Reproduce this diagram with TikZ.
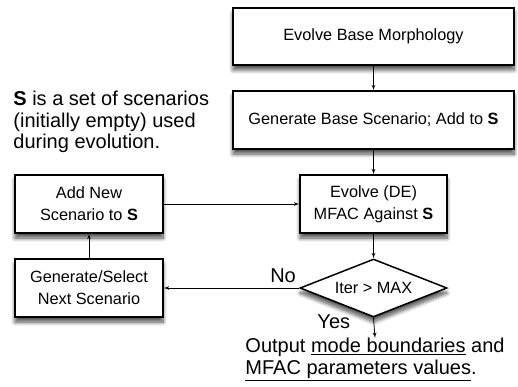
\documentclass[tikz,border=0pt]{standalone}
\usepackage{fontspec}
\setmainfont{Liberation Sans}
\usepackage{tikz}
\usetikzlibrary{arrows}
\usetikzlibrary{shapes.geometric}
\usetikzlibrary{shadows.blur}
\tikzstyle{block} = [draw,fill=white,line width=1.5pt,inner sep=0pt,align=center,
  font=\fontsize{16.3}{22}\selectfont,
  blur shadow={shadow xshift=0pt,shadow yshift=-5pt,shadow blur radius=4pt,shadow blur steps=10,shadow opacity=70}]
\tikzstyle{dec} = [block,diamond,aspect=2.5,minimum width=147pt,minimum height=58pt]
\tikzstyle{txt} = [inner sep=0pt,align=left,font=\fontsize{20}{21.5}\selectfont]

\begin{document}
\begin{tikzpicture}[>=latex',x=1pt,y=1pt,line width=0.8pt]

\useasboundingbox (0,0) rectangle (518,-387);

% Draw blocks, decision and texts

    \node[block,minimum width=281pt,minimum height=57pt] at (373.5,-36.5) (morph) {Evolve Base Morphology};
    \node[block,minimum width=281pt,minimum height=58pt] at (373.5,-120) (base) {Generate Base Scenario; Add to \textbf{S}};
    \node[block,minimum width=147pt,minimum height=58pt] at (373.5,-204) (evolve) {Evolve (DE)\\MFAC Against \textbf{S}};
    \node[dec] at (373.5,-288) (iter) {Iter > MAX};
    \node[block,minimum width=148pt,minimum height=58pt] at (89,-204) (addnew) {Add New\\Scenario to \textbf{S}};
    \node[block,minimum width=148pt,minimum height=58pt] at (89,-288) (gensel) {Generate/Select\\Next Scenario};

    \node[txt,anchor=west] at (13,-122) (note) {\textbf{S} is a set of scenarios\\(initially empty) used\\during evolution.};
    \node[txt,anchor=north] at (375,-338) (out) {Output \underline{mode boundaries} and\\\underline{MFAC parameters values}.};

    \draw[->] (morph) -- (base);
    \draw[->] (base) -- (evolve);
    \draw[->] (evolve) -- (iter);
    \draw[->] (addnew) -- (evolve);
    \draw[->] (gensel) -- (addnew);
    \draw[->] (iter.west) -- node[txt,pos=0,anchor=base east,xshift=-3pt,yshift=6pt] {No} (gensel.east);
    \draw[->] (iter.south) -- node[txt,pos=0,anchor=base east,xshift=-23pt,yshift=-11pt] {Yes} (out.north);

\end{tikzpicture}
\end{document}
